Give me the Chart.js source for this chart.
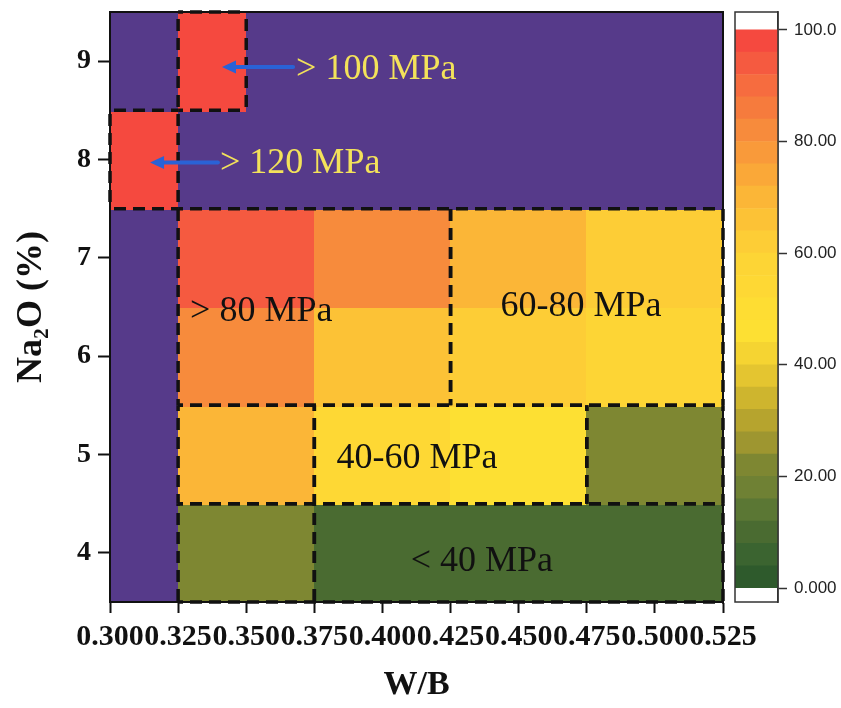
<!DOCTYPE html>
<html>
<head>
<meta charset="utf-8">
<script src="https://cdn.jsdelivr.net/npm/chart.js@4.4.1/dist/chart.umd.min.js"></script>
<style>
  html, body { margin: 0; padding: 0; background: #fff; }
  #wrap { position: relative; width: 841px; height: 708px; }
  #wrap canvas { position: absolute; left: 0; top: 0; }
</style>
</head>
<body>
<div id="wrap">
  <canvas id="heat" width="841" height="708"></canvas>
  <canvas id="cbar" width="841" height="708"></canvas>
</div>
<script>
/* ── data ─────────────────────────────── */
const wbEdges    = [0.300, 0.325, 0.350, 0.375, 0.400, 0.425, 0.450, 0.475, 0.500, 0.525];
const na2oLevels = [4, 5, 6, 7, 8, 9];

// compressive strength (MPa) per cell, rows = Na2O level, cols = W/B interval; null = not tested
const strength = [
  [null, 21, 21, 10, 10, 10, 10, 10, 10],
  [null, 70, 70, 53, 53, 46, 46, 21, 21],
  [null, 81, 81, 67, 67, 62, 62, 57, 57],
  [null, 93, 93, 82, 82, 70, 70, 62, 62],
  [125, null, null, null, null, null, null, null, null],
  [null, 105, null, null, null, null, null, null, null],
];

const xTickValues = [0.300, 0.325, 0.350, 0.375, 0.400, 0.425, 0.450, 0.475, 0.500, 0.525];
const yTickValues = [4, 5, 6, 7, 8, 9];

// colour scale: 25 bands of 4 MPa from 0 to 100
const cbBandStarts = [0, 4, 8, 12, 16, 20, 24, 28, 32, 36, 40, 44, 48, 52, 56, 60, 64, 68, 72, 76, 80, 84, 88, 92, 96];
const cbColors = [
  '#2e5a2c', '#3b6430', '#4a6b31', '#5b7734', '#6f8134', '#7e8732', '#9e9630', '#b6a42e',
  '#ceb52e', '#e4c530', '#f5d432', '#fde033', '#fedd33', '#fed834', '#fdd535', '#fdcd36',
  '#fcc236', '#fbb637', '#faa838', '#f99a3a', '#f78b3c', '#f67b3d', '#f66c3f', '#f55a40', '#f5493f'
];
const cbTickValues = [0, 20, 40, 60, 80, 100];
const cbTickLabels = ['0.000', '20.00', '40.00', '60.00', '80.00', '100.0'];

// dashed strength regions [x0, x1, y0, y1]
const regionBoxes = [
  [0.325, 0.350, 8.5, 9.5],
  [0.300, 0.325, 7.5, 8.5],
  [0.325, 0.425, 5.5, 7.5],
  [0.425, 0.525, 5.5, 7.5],
  [0.325, 0.375, 4.5, 5.5],
  [0.375, 0.475, 4.5, 5.5],
  [0.475, 0.525, 4.5, 5.5],
  [0.325, 0.375, 3.5, 4.5],
  [0.375, 0.525, 3.5, 4.5],
];

const regionLabels = [
  { text: '> 100 MPa', x: 0.3683, y: 8.91, align: 'left',   color: '#f3e25a' },
  { text: '> 120 MPa', x: 0.3404, y: 7.96, align: 'left',   color: '#f3e25a' },
  { text: '> 80 MPa',  x: 0.3294, y: 6.45, align: 'left',   color: '#111' },
  { text: '60-80 MPa', x: 0.4729, y: 6.50, align: 'center', color: '#111' },
  { text: '40-60 MPa', x: 0.4127, y: 4.96, align: 'center', color: '#111' },
  { text: '< 40 MPa',  x: 0.4365, y: 3.91, align: 'center', color: '#111' },
];

// arrows [tailX, tipX, y]
const arrows = [
  [0.3672, 0.3411, 8.94],
  [0.3396, 0.3147, 7.97],
];

/* ── styles ───────────────────────────── */
const SERIF = "'Liberation Serif', 'Times New Roman', serif";
const SANS  = "'Liberation Sans', Arial, sans-serif";
const PURPLE = '#563a8a';
const DASH = [12, 7];
const DASH_PERIOD = DASH[0] + DASH[1];

function colorFor(v) {
  if (v === null) return PURPLE;
  let i = Math.floor(v / 4);
  i = Math.max(0, Math.min(cbColors.length - 1, i));
  return cbColors[i];
}

// keep the plot box where the layout padding puts it
function noLabelPadding(s) {
  s.paddingTop = 0; s.paddingBottom = 0; s.paddingLeft = 0; s.paddingRight = 0;
}

// dashed segment whose dashes line up with any other segment on the same line
function dashedLine(ctx, x0, y0, x1, y1) {
  const start = x0 === x1 ? y0 : x0;
  ctx.lineDashOffset = start % DASH_PERIOD;
  ctx.beginPath();
  ctx.moveTo(x0, y0);
  ctx.lineTo(x1, y1);
  ctx.stroke();
}

const heatmapPlugin = {
  id: 'heatmap',
  beforeDatasetsDraw(chart) {
    const { ctx, scales: { x, y } } = chart;
    ctx.save();
    strength.forEach((row, r) => {
      row.forEach((v, c) => {
        const x0 = x.getPixelForValue(wbEdges[c]);
        const x1 = x.getPixelForValue(wbEdges[c + 1]);
        const y0 = y.getPixelForValue(na2oLevels[r] + 0.5);
        const y1 = y.getPixelForValue(na2oLevels[r] - 0.5);
        ctx.fillStyle = colorFor(v);
        ctx.fillRect(Math.floor(x0), Math.floor(y0), Math.ceil(x1 - x0) + 1, Math.ceil(y1 - y0) + 1);
      });
    });
    ctx.restore();
  },
  afterDatasetsDraw(chart) {
    const { ctx, chartArea: a, scales: { x, y } } = chart;
    ctx.save();
    ctx.beginPath();
    ctx.rect(a.left - 2, a.top - 2, a.right - a.left + 4, a.bottom - a.top + 4);
    ctx.clip();

    // dashed region boxes
    ctx.strokeStyle = '#111';
    ctx.lineWidth = 3.5;
    ctx.setLineDash(DASH);
    regionBoxes.forEach(([x0, x1, y0, y1]) => {
      const l = x.getPixelForValue(x0), r = x.getPixelForValue(x1);
      const t = y.getPixelForValue(y1), b = y.getPixelForValue(y0);
      dashedLine(ctx, l, t, r, t);
      dashedLine(ctx, l, b, r, b);
      dashedLine(ctx, l, t, l, b);
      dashedLine(ctx, r, t, r, b);
    });
    ctx.setLineDash([]);

    // arrows
    ctx.fillStyle = '#2a62d6';
    ctx.strokeStyle = '#2a62d6';
    arrows.forEach(([tx, hx, yy]) => {
      const pt = x.getPixelForValue(tx), ph = x.getPixelForValue(hx), py = y.getPixelForValue(yy);
      ctx.lineWidth = 4;
      ctx.lineCap = 'round';
      ctx.beginPath();
      ctx.moveTo(pt, py);
      ctx.lineTo(ph + 10, py);
      ctx.stroke();
      ctx.beginPath();
      ctx.moveTo(ph, py);
      ctx.lineTo(ph + 14, py - 6.5);
      ctx.lineTo(ph + 14, py + 6.5);
      ctx.closePath();
      ctx.fill();
    });

    // region labels
    ctx.font = '36px ' + SERIF;
    ctx.textBaseline = 'middle';
    regionLabels.forEach(l => {
      ctx.textAlign = l.align;
      ctx.fillStyle = l.color;
      ctx.fillText(l.text, x.getPixelForValue(l.x), y.getPixelForValue(l.y));
    });
    ctx.restore();
  },
  afterDraw(chart) {
    const { ctx, chartArea: a } = chart;
    ctx.save();
    ctx.strokeStyle = '#111';
    ctx.lineWidth = 2;
    ctx.strokeRect(a.left, a.top, a.right - a.left, a.bottom - a.top);
    ctx.restore();
  }
};

new Chart(document.getElementById('heat'), {
  type: 'scatter',
  data: { datasets: [{ data: [] }] },
  options: {
    responsive: false,
    animation: false,
    layout: { padding: { left: 0, top: 12, right: 118, bottom: 0 } },
    plugins: { legend: { display: false }, tooltip: { enabled: false } },
    scales: {
      x: {
        type: 'linear', min: 0.3, max: 0.525,
        afterBuildTicks: s => { s.ticks = xTickValues.map(v => ({ value: v })); },
        afterFit: s => { s.height = 106; noLabelPadding(s); },
        ticks: {
          autoSkip: false, maxRotation: 0, minRotation: 0, padding: 6, color: '#111',
          font: { family: SERIF, size: 30, weight: 'bold' },
          callback: v => v.toFixed(3)
        },
        grid: { drawOnChartArea: false, drawTicks: true, tickLength: 11, tickColor: '#111', tickWidth: 2 },
        border: { display: true, color: '#111', width: 2 },
        title: { display: true, text: 'W/B', color: '#111', font: { family: SERIF, size: 34, weight: 'bold' }, padding: { top: 0, bottom: 2 } }
      },
      y: {
        type: 'linear', min: 3.5, max: 9.5,
        afterBuildTicks: s => { s.ticks = yTickValues.map(v => ({ value: v })); },
        afterFit: s => { s.width = 110; noLabelPadding(s); },
        ticks: { padding: 7, color: '#111', font: { family: SERIF, size: 28, weight: 'bold' } },
        grid: { drawOnChartArea: false, drawTicks: true, tickLength: 12, tickColor: '#111', tickWidth: 2 },
        border: { display: true, color: '#111', width: 2 },
        title: { display: true, text: 'Na₂O (%)', color: '#111', font: { family: SERIF, size: 36, weight: 'bold' }, padding: { top: 10, bottom: 0 } }
      }
    }
  },
  plugins: [heatmapPlugin]
});

/* ── colour bar ───────────────────────── */
const framePlugin = {
  id: 'frame',
  afterDraw(chart) {
    const { ctx, chartArea: a } = chart;
    ctx.save();
    ctx.strokeStyle = '#333';
    ctx.lineWidth = 1.5;
    ctx.strokeRect(a.left, a.top, a.right - a.left, a.bottom - a.top);
    ctx.restore();
  }
};

new Chart(document.getElementById('cbar'), {
  type: 'bar',
  data: {
    labels: [''],
    datasets: cbBandStarts.map((b, i) => ({
      data: [[b, b + 4]],
      backgroundColor: cbColors[i],
      borderWidth: 0,
      grouped: false,
      barPercentage: 1,
      categoryPercentage: 1
    }))
  },
  options: {
    responsive: false,
    animation: false,
    layout: { padding: { left: 735, top: 12, right: 0, bottom: 106 } },
    plugins: { legend: { display: false }, tooltip: { enabled: false } },
    scales: {
      x: { display: false },
      y: {
        position: 'right', min: -2.5, max: 103.2,
        afterBuildTicks: s => { s.ticks = cbTickValues.map(v => ({ value: v })); },
        afterFit: s => { s.width = 63; noLabelPadding(s); },
        ticks: {
          padding: 7, color: '#222', font: { family: SANS, size: 17 },
          callback: v => cbTickLabels[cbTickValues.indexOf(v)]
        },
        grid: { drawOnChartArea: false, drawTicks: true, tickLength: 9, tickColor: '#333', tickWidth: 1.5 },
        border: { display: true, color: '#333', width: 1.5 }
      }
    }
  },
  plugins: [framePlugin]
});
</script>
</body>
</html>
